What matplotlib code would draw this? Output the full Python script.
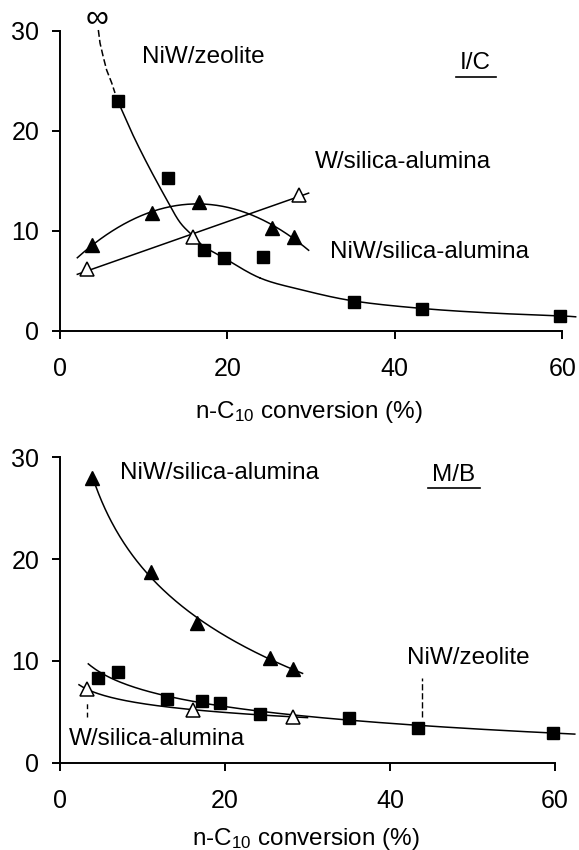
import numpy as np
import matplotlib
matplotlib.use("Agg")
import matplotlib.pyplot as plt

plt.rcParams['font.family'] = ['Liberation Sans', 'DejaVu Sans']
plt.rcParams['mathtext.default'] = 'regular'
FS = 17.5

# ---- top panel: I/C ----
ic_zeo_x = [6.9, 12.9, 17.2, 19.6, 24.2, 35.1, 43.3, 59.7]
ic_zeo_y = [23.0, 15.3, 8.1, 7.3, 7.4, 2.93, 2.17, 1.5]
ic_nisa_x = [3.86, 11.03, 16.6, 25.3, 28.0]
ic_nisa_y = [8.6, 11.83, 12.93, 10.33, 9.37]
ic_wsa_x = [3.27, 15.9, 28.55]
ic_wsa_y = [6.17, 9.43, 13.6]

# hand drawn guide for the zeolite curve
ic_zeo_curve_x = [6.9, 8.6, 10.5, 12.7, 14.3, 15.9, 17.2, 19.6, 23.9, 28.7, 35.1, 43.3, 51.5, 60.0, 61.6]
ic_zeo_curve_y = [23.0, 19.8, 16.6, 13.2, 10.9, 9.5, 8.45, 7.3, 5.3, 4.15, 3.0, 2.25, 1.8, 1.5, 1.42]
# dashed part going to infinity
asym_x = [4.58, 4.78, 5.17, 5.57, 6.18, 6.57]
asym_y = [30.1, 28.8, 27.4, 26.1, 24.8, 23.8]

# ---- bottom panel: M/B ----
mb_nisa_x = [3.92, 11.03, 16.57, 25.4, 28.2]
mb_nisa_y = [28.0, 18.77, 13.75, 10.25, 9.2]
mb_zeo_x = [4.57, 7.07, 12.93, 17.25, 19.4, 24.24, 35.07, 43.4, 59.8]
mb_zeo_y = [8.29, 8.94, 6.23, 6.09, 5.9, 4.78, 4.36, 3.38, 2.89]
mb_wsa_x = [3.31, 16.16, 28.3]
mb_wsa_y = [7.21, 5.18, 4.52]

xticks = [0, 20, 40, 60]
yticks = [0, 10, 20, 30]


def catmull(xs, ys, n=30):
    pts = np.column_stack([xs, ys])
    p = np.vstack([2 * pts[0] - pts[1], pts, 2 * pts[-1] - pts[-2]])
    t = np.linspace(0, 1, n)[:, None]
    out = []
    for i in range(1, len(p) - 2):
        p0, p1, p2, p3 = p[i - 1], p[i], p[i + 1], p[i + 2]
        seg = 0.5 * (2 * p1 + (-p0 + p2) * t + (2 * p0 - 5 * p1 + 4 * p2 - p3) * t ** 2
                     + (-p0 + 3 * p1 - 3 * p2 + p3) * t ** 3)
        out.append(seg)
    c = np.vstack(out)
    return c[:, 0], c[:, 1]


def log_fit(x, y, x0, x1):
    b, a = np.polyfit(np.log(x), y, 1)
    xx = np.linspace(x0, x1, 200)
    return xx, a + b * np.log(xx)


def style_axes(ax):
    ax.set_xlim(0, 62)
    ax.set_ylim(0, 30)
    for s in ['top', 'right']:
        ax.spines[s].set_visible(False)
    for s in ['left', 'bottom']:
        ax.spines[s].set_linewidth(1.4)
    ax.spines['bottom'].set_bounds(0, 60)
    ax.spines['left'].set_bounds(0, 30)
    ax.set_xticks(xticks)
    ax.set_yticks(yticks)
    ax.tick_params(axis='both', direction='out', length=6, width=1.4, labelsize=18)
    ax.tick_params(axis='x', pad=13)
    ax.tick_params(axis='y', pad=9)
    ax.patch.set_visible(False)


fig = plt.figure(figsize=(5.79, 8.5), dpi=100)
ax1 = fig.add_axes([60 / 579, 1 - 331 / 850, 519 / 579, 300 / 850])
ax2 = fig.add_axes([60 / 579, 1 - 762.7 / 850, 511.5 / 579, 305.3 / 850])

lw = 1.1
dash = (0, (4.5, 2))
sq = dict(marker='s', ms=8.9, color='black', ls='none', clip_on=False, zorder=3)
tri = dict(marker='^', ms=10, color='black', ls='none', clip_on=False, zorder=3)
otri = dict(marker='^', ms=10, mfc='white', mec='black', mew=1.1, ls='none', clip_on=False, zorder=3)

# top panel
cx, cy = catmull(ic_zeo_curve_x, ic_zeo_curve_y)
ax1.plot(cx, cy, color='black', lw=lw, clip_on=False)
ax1.plot(asym_x, asym_y, color='black', lw=lw, ls=dash, clip_on=False)
ax1.text(4.4, 31.2, '\u221e', fontsize=23, ha='center', va='center', clip_on=False)

p2 = np.polyfit(ic_nisa_x, ic_nisa_y, 2)
xx = np.linspace(2.07, 29.7, 200)
ax1.plot(xx, np.polyval(p2, xx), color='black', lw=lw)

p1 = np.polyfit(ic_wsa_x, ic_wsa_y, 1)
xx = np.linspace(2.07, 29.7, 50)
ax1.plot(xx, np.polyval(p1, xx), color='black', lw=lw)

ax1.plot(ic_zeo_x, ic_zeo_y, **sq)
ax1.plot(ic_nisa_x, ic_nisa_y, **tri)
ax1.plot(ic_wsa_x, ic_wsa_y, **otri)

ax1.text(17.17, 26.84, 'NiW/zeolite', fontsize=FS, ha='center', va='baseline')
ax1.text(49.6, 26.2, 'I/C', fontsize=FS, ha='center', va='baseline')
ax1.plot([47.3, 52.1], [25.4, 25.4], color='black', lw=1.2)
ax1.text(41.0, 16.34, 'W/silica-alumina', fontsize=FS, ha='center', va='baseline')
ax1.text(44.2, 7.34, 'NiW/silica-alumina', fontsize=FS, ha='center', va='baseline')

# bottom panel
xx, yy = log_fit(mb_nisa_x, mb_nisa_y, 3.92, 29.4)
ax2.plot(xx, yy, color='black', lw=lw)
xx, yy = log_fit(mb_zeo_x, mb_zeo_y, 3.43, 62.4)
ax2.plot(xx, yy, color='black', lw=lw, clip_on=False)
xx, yy = log_fit(mb_wsa_x, mb_wsa_y, 2.3, 30.0)
ax2.plot(xx, yy, color='black', lw=lw)

ax2.plot(mb_zeo_x, mb_zeo_y, **sq)
ax2.plot(mb_nisa_x, mb_nisa_y, **tri)
ax2.plot(mb_wsa_x, mb_wsa_y, **otri)

ax2.plot([3.3, 3.3], [4.46, 5.84], color='black', lw=1.0, ls=(0, (3.5, 2.5)))
ax2.plot([43.84, 43.84], [4.46, 8.29], color='black', lw=1.0, ls=dash)

ax2.text(19.3, 27.9, 'NiW/silica-alumina', fontsize=FS, ha='center', va='baseline')
ax2.text(47.75, 27.65, 'M/B', fontsize=FS, ha='center', va='baseline')
ax2.plot([44.6, 50.9], [26.95, 26.95], color='black', lw=1.2)
ax2.text(49.5, 9.73, 'NiW/zeolite', fontsize=FS, ha='center', va='baseline')
ax2.text(11.8, 1.7, 'W/silica-alumina', fontsize=FS, ha='center', va='baseline')

for ax, lx, ly in [(ax1, 0.48, -0.29), (ax2, 0.4805, -0.268)]:
    style_axes(ax)
    ax.set_xlabel('n-C$_{10}$ conversion (%)', fontsize=FS, va='baseline')
    ax.xaxis.set_label_coords(lx, ly)

fig.savefig('out.png', dpi=100)
